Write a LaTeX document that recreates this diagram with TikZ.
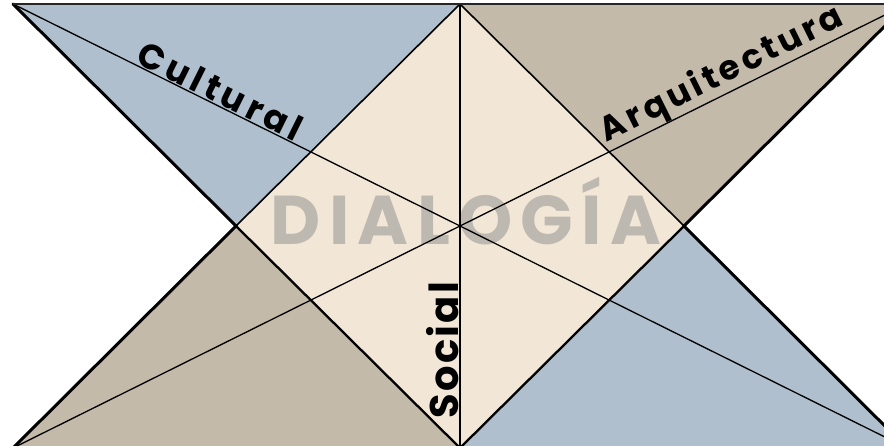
\documentclass[tikz,border=0pt]{standalone}
\usepackage{fontspec}
\setmainfont{Poppins}
\newfontfamily\culturalfont[LetterSpace=13]{Poppins}
\newfontfamily\arqfont[LetterSpace=11]{Poppins}
\newfontfamily\sociallabelfont[LetterSpace=6]{Poppins}
\newfontfamily\titlefont[LetterSpace=12]{Poppins}
\usetikzlibrary{calc}
\definecolor{dlgblue}{HTML}{AFBFCD}
\definecolor{dlgtan}{HTML}{C4BAAA}
\definecolor{dlgcream}{HTML}{F2E7D6}
\definecolor{dlggray}{HTML}{BDB8B0}

\begin{document}
\begin{tikzpicture}[x=1pt,y=-1pt]
  \tikzset{outeredge/.style={draw=black,line width=3pt,line cap=round}}
  \tikzset{upperedge/.style={draw=black,line width=1.6pt,line cap=round}}
  \tikzset{loweredge/.style={draw=black,line width=2.3pt,line cap=round}}
  \tikzset{crossline/.style={draw=black,line width=1.3pt}}
  \tikzset{topedge/.style={draw=black!85,line width=2.6pt}}
  \tikzset{axislabel/.style={sloped,above,inner sep=0pt,outer sep=1.5pt,text=black}}
  \useasboundingbox (0,0) rectangle (884,446);
  \clip (0,0) rectangle (884,446);
  % corners of the two hourglasses and the diamond
  \coordinate (tl) at (13,4);
  \coordinate (t) at (460,4);
  \coordinate (tr) at (907,4);
  \coordinate (l) at (236,226);
  \coordinate (c) at (460,226);
  \coordinate (r) at (684,226);
  \coordinate (bl) at (13,448);
  \coordinate (b) at (460,448);
  \coordinate (br) at (907,448);
  % fills
  \fill[dlgblue] (tl) -- (t) -- (l) -- cycle;
  \fill[dlgtan] (t) -- (tr) -- (r) -- cycle;
  \fill[dlgtan] (l) -- (b) -- (bl) -- cycle;
  \fill[dlgblue] (r) -- (br) -- (b) -- cycle;
  \fill[dlgcream] (t) -- (r) -- (b) -- (l) -- cycle;
  \node[anchor=base,text=dlggray,font=\titlefont\bfseries\fontsize{69}{82}\selectfont] (title) at (466,245) {DIALOGÍA};
  % lines
  \draw[crossline] (tl) -- node[axislabel,pos=0.45,font=\culturalfont\bfseries\fontsize{35}{42}\selectfont] (cultural) {Cultural} (c) -- (br);
  \draw[crossline] (bl) -- (c) -- node[axislabel,pos=0.605,outer sep=0.5pt,font=\arqfont\bfseries\fontsize{34}{41}\selectfont] (arq) {Arquitectura} (tr);
  \draw[crossline] (b) -- node[axislabel,pos=0.22,font=\sociallabelfont\bfseries\fontsize{40}{48}\selectfont] (social) {Social} (t);
  \draw[upperedge] (l) -- (t) -- (r);
  \draw[loweredge] (l) -- (b) -- (r);
  \draw[outeredge] (tl) -- (l) -- (bl);
  \draw[outeredge] (tr) -- (r) -- (br);
  \draw[topedge] (tl) -- (tr);
\end{tikzpicture}
\end{document}
